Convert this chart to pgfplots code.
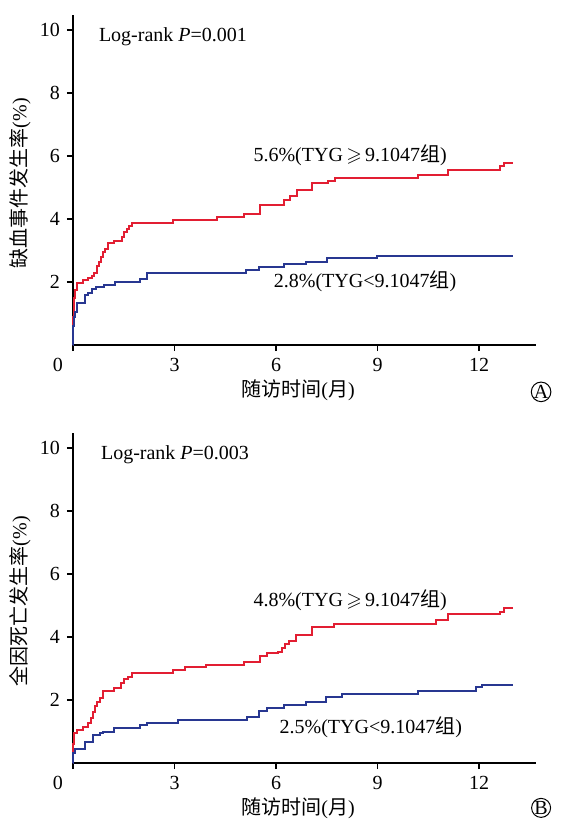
\documentclass[border=0pt]{standalone}
\usepackage{fontspec}
\usepackage{amssymb}
\setmainfont{Liberation Serif}
\newfontfamily\cjk{Noto Sans CJK SC}
\usepackage{pgfplots}
\pgfplotsset{compat=1.18}

\definecolor{kmred}{RGB}{226,30,50}
\definecolor{kmblue}{RGB}{40,55,145}

\pgfplotsset{
  km/.style={
    scale only axis,
    width=231.5pt, height=165pt,
    xmin=0, xmax=13.68, ymin=0, ymax=10.48,
    axis x line*=bottom, axis y line*=left,
    axis line style={line width=0.75pt},
    tick align=outside,
    major tick length=3pt,
    every tick/.style={black, line width=0.75pt},
    xtick={3,6,9,12}, ytick={2,4,6,8,10},
    extra x ticks={0},
    extra x tick style={xticklabel style={xshift=-7.5pt}},
    tick label style={font=\fontsize{10}{12}\selectfont},
    /pgf/number format/assume math mode=true,
    label style={font=\fontsize{10}{12}\selectfont},
    xlabel style={at={(axis description cs:0.486,0)}, anchor=center, yshift=-22.5pt},
    ylabel style={at={(axis description cs:-0.1145,0.49)}, anchor=center},
    xlabel={{\cjk 随访时间}({\cjk 月})},
    clip=false,
    every node/.append style={font=\fontsize{10}{12}\selectfont},
    const plot,
  },
  red curve/.style={kmred, line width=1pt},
  blue curve/.style={kmblue, line width=1pt},
}

\begin{document}
\begin{tikzpicture}
\useasboundingbox (-36.5pt,-237pt) rectangle (244.5pt,172.5pt);

% panel A
\begin{axis}[km, name=a, ylabel={{\cjk 缺血事件发生率}(\%)}]
\addplot[red curve] coordinates {
(0,0)(0.01,0.9)(0.03,1.5)(0.06,1.75)(0.13,1.97)(0.3,2.05)(0.45,2.12)(0.55,2.2)
(0.62,2.3)(0.7,2.5)(0.76,2.65)(0.82,2.8)(0.88,2.95)(0.95,3.05)(1.02,3.23)
(1.2,3.3)(1.45,3.44)(1.52,3.58)(1.6,3.68)(1.66,3.78)(1.73,3.88)(2.95,3.97)
(4.25,4.05)(5.05,4.16)(5.52,4.44)(6.22,4.6)(6.42,4.74)(6.62,4.92)(7.06,5.13)
(7.52,5.22)(7.75,5.29)(10.18,5.40)(11.07,5.57)(12.62,5.68)(12.74,5.79)(13.0,5.79)};
\addplot[blue curve] coordinates {
(0,0)(0.01,0.6)(0.03,0.9)(0.07,1.05)(0.13,1.34)(0.36,1.59)(0.45,1.66)(0.55,1.77)
(0.68,1.83)(0.92,1.9)(1.25,2.0)(1.99,2.1)(2.2,2.28)(5.12,2.38)(5.5,2.47)
(6.24,2.57)(6.87,2.65)(7.49,2.75)(8.99,2.84)(13.0,2.84)};
\node[anchor=west] at (axis cs:0.56,9.78) {Log-rank \textit{P}=0.001};
\node at (axis cs:8.19,6.03) {5.6\%(TYG\,$\geqslant$\,9.1047{\cjk 组})};
\node at (axis cs:8.63,2.01) {2.8\%(TYG<9.1047{\cjk 组})};
\node[circle, draw, line width=0.5pt, inner sep=0pt, minimum size=9.5pt] at (rel axis cs:1.011,-0.142) {A};
\end{axis}

% panel B
\begin{axis}[km, at={(0pt,-209pt)}, ylabel={{\cjk 全因死亡发生率}(\%)}]
\addplot[red curve] coordinates {
(0,0)(0.01,0.6)(0.04,0.94)(0.12,1.05)(0.3,1.15)(0.45,1.26)(0.52,1.42)(0.6,1.63)
(0.66,1.8)(0.7,1.95)(0.8,2.06)(0.88,2.3)(1.2,2.39)(1.42,2.53)(1.5,2.66)
(1.62,2.72)(1.73,2.85)(2.96,2.95)(3.3,3.04)(3.92,3.12)(5.05,3.22)(5.52,3.40)
(5.72,3.48)(6.07,3.53)(6.17,3.64)(6.27,3.78)(6.37,3.88)(6.58,4.06)(7.07,4.33)
(7.72,4.43)(10.72,4.54)(11.07,4.72)(12.62,4.8)(12.74,4.91)(13.0,4.91)};
\addplot[blue curve] coordinates {
(0,0)(0.01,0.31)(0.06,0.43)(0.36,0.68)(0.6,0.89)(0.8,0.94)(0.9,0.99)(1.2,1.1)
(1.99,1.21)(2.2,1.28)(3.09,1.37)(5.14,1.47)(5.5,1.66)(5.74,1.74)(6.24,1.84)
(6.87,1.95)(7.47,2.09)(7.96,2.19)(10.18,2.30)(11.9,2.40)(12.07,2.48)(13.0,2.48)};
\node[anchor=west] at (axis cs:0.62,9.78) {Log-rank \textit{P}=0.003};
\node at (axis cs:8.19,5.17) {4.8\%(TYG\,$\geqslant$\,9.1047{\cjk 组})};
\node at (axis cs:8.8,1.14) {2.5\%(TYG<9.1047{\cjk 组})};
\node[circle, draw, line width=0.5pt, inner sep=0pt, minimum size=9.5pt] at (rel axis cs:1.011,-0.136) {B};
\end{axis}
\end{tikzpicture}
\end{document}
